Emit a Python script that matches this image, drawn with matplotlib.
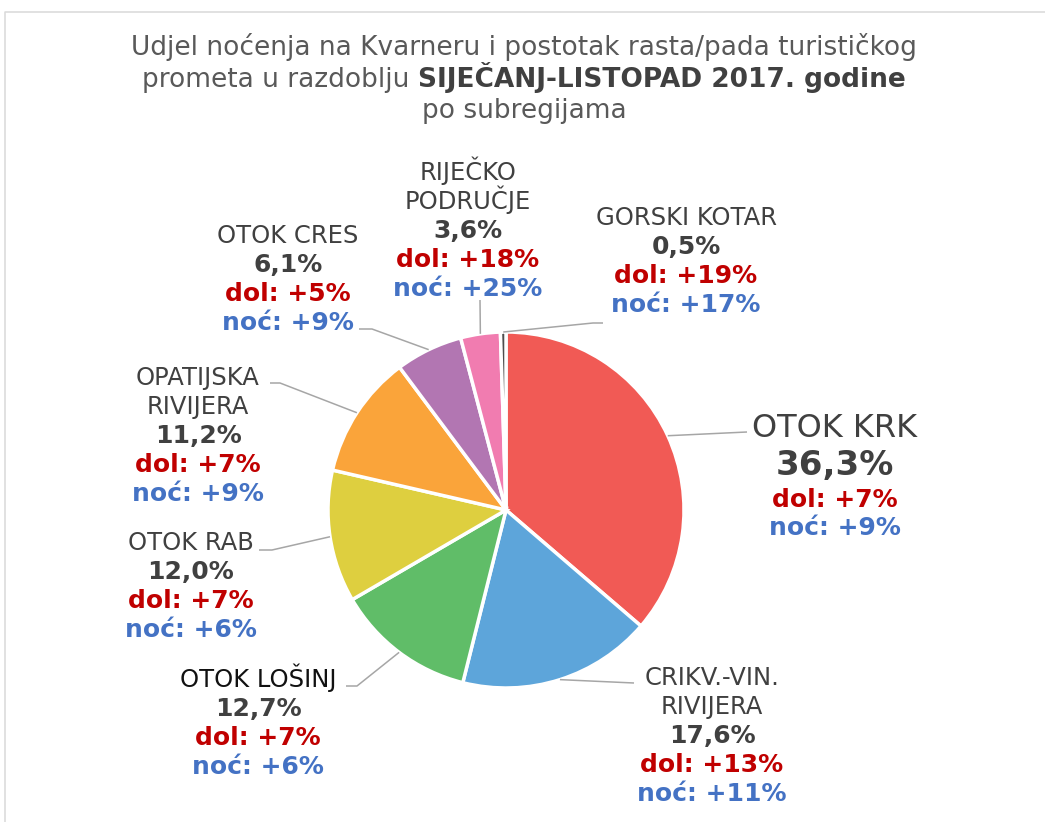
import matplotlib
matplotlib.use("Agg")
import matplotlib.pyplot as plt
import numpy as np

W, H = 1045, 822

# ---------------- data ----------------
names = ["OTOK KRK", "CRIKV.-VIN.\nRIVIJERA", "OTOK LOŠINJ", "OTOK RAB",
         "OPATIJSKA\nRIVIJERA", "OTOK CRES", "RIJEČKO\nPODRUČJE", "GORSKI KOTAR"]
shares = [36.3, 17.6, 12.7, 12.0, 11.2, 6.1, 3.6, 0.5]
dol_change = [7, 13, 7, 7, 7, 5, 18, 19]
noc_change = [9, 11, 6, 6, 9, 9, 25, 17]
colors = ["#F15A55", "#5DA5DA", "#60BD68", "#DECF3F",
          "#FAA43A", "#B276B2", "#F17CB0", "#4D4D4D"]
name_colors = ["#404040", "#404040", "#111111", "#404040",
               "#404040", "#404040", "#404040", "#404040"]

title_line1 = "Udjel noćenja na Kvarneru i postotak rasta/pada turističkog"
title_line2_normal = "prometa u razdoblju"
title_line2_bold = "SIJEČANJ-LISTOPAD 2017. godine"
title_line3 = "po subregijama"

# ---------------- layout (pixels, y measured from top) ----------------
cx, cy, radius = 506, 510, 178
label_pos = [(835, 437), (712, 685), (258, 687), (191, 550),
             (198, 385), (288, 243), (468, 180), (686, 225)]
leader_pts = [
    [(747, 432)],
    [(634, 683)],
    [(357, 686), (346, 686)],
    [(272, 550), (259, 550)],
    [(280, 383), (270, 383)],
    [(372, 329), (359, 329)],
    [(480, 300)],
    [(593, 323), (603, 323)],
]

RED = "#C00000"
BLUE = "#4472C4"
GREY_TXT = "#404040"
LINE_C = "#A6A6A6"


def Y(y):
    return H - y


fig = plt.figure(figsize=(W / 100, H / 100), dpi=100)
ax = fig.add_axes([0, 0, 1, 1])

wedges, _ = ax.pie(shares, colors=colors, startangle=90, counterclock=False,
                   center=(cx, Y(cy)), radius=radius,
                   wedgeprops=dict(edgecolor="white", linewidth=2.5))
ax.set_xlim(0, W)
ax.set_ylim(0, H)
ax.set_aspect("equal")
ax.axis("off")

# chart border (light grey, top and left visible)
ax.plot([5, 5, W + 10], [-10, Y(12), Y(12)], color="#D9D9D9", lw=1.1,
        clip_on=False)

# leader lines
for w, pts in zip(wedges, leader_pts):
    a = np.deg2rad((w.theta1 + w.theta2) / 2)
    xs = [cx + radius * np.cos(a)] + [p[0] for p in pts]
    ys = [Y(cy) + radius * np.sin(a)] + [Y(p[1]) for p in pts]
    ax.plot(xs, ys, color=LINE_C, lw=1.1, solid_capstyle="butt")


def fmt_pct(v):
    return f"{v:.1f}".replace(".", ",") + "%"


# labels
for i, (nm, sh, d, n) in enumerate(zip(names, shares, dol_change, noc_change)):
    x, y0 = label_pos[i]
    lines = []
    if i == 0:
        lines.append((nm, 23, "normal", name_colors[i], 0))
        lines.append((fmt_pct(sh), 24.5, "bold", GREY_TXT, 38))
        lines.append((f"dol: +{d}%", 18, "bold", RED, 32))
        lines.append((f"noć: +{n}%", 18, "bold", BLUE, 28))
    else:
        first = True
        for part in nm.split("\n"):
            lines.append((part, 17.5, "normal", name_colors[i], 0 if first else 29))
            first = False
        lines.append((fmt_pct(sh), 18, "bold", GREY_TXT, 29))
        lines.append((f"dol: +{d}%", 18, "bold", RED, 29))
        lines.append((f"noć: +{n}%", 18, "bold", BLUE, 29))
    y = y0
    for txt, fs, fw, col, dy in lines:
        y += dy
        ax.text(x, Y(y), txt, fontsize=fs, fontweight=fw, color=col,
                ha="center", va="baseline", family="DejaVu Sans")

# title
TITLE_FS = 19
title_x = 524
ax.text(title_x, Y(55), title_line1, fontsize=TITLE_FS, color="#595959",
        ha="center", va="baseline")
ax.text(title_x, Y(118), title_line3, fontsize=TITLE_FS, color="#595959",
        ha="center", va="baseline")
renderer = fig.canvas.get_renderer()
ta = ax.text(0, Y(87), title_line2_normal, fontsize=TITLE_FS, color="#595959",
             ha="left", va="baseline")
tb = ax.text(0, Y(87), title_line2_bold, fontsize=TITLE_FS, color="#404040",
             fontweight="bold", ha="left", va="baseline")
wa = ta.get_window_extent(renderer).width
wb = tb.get_window_extent(renderer).width
gap = 0.32 * TITLE_FS * 100 / 72
total = wa + gap + wb
x0 = title_x - total / 2
ta.set_x(x0)
tb.set_x(x0 + wa + gap)

fig.savefig("out.png", dpi=100)
